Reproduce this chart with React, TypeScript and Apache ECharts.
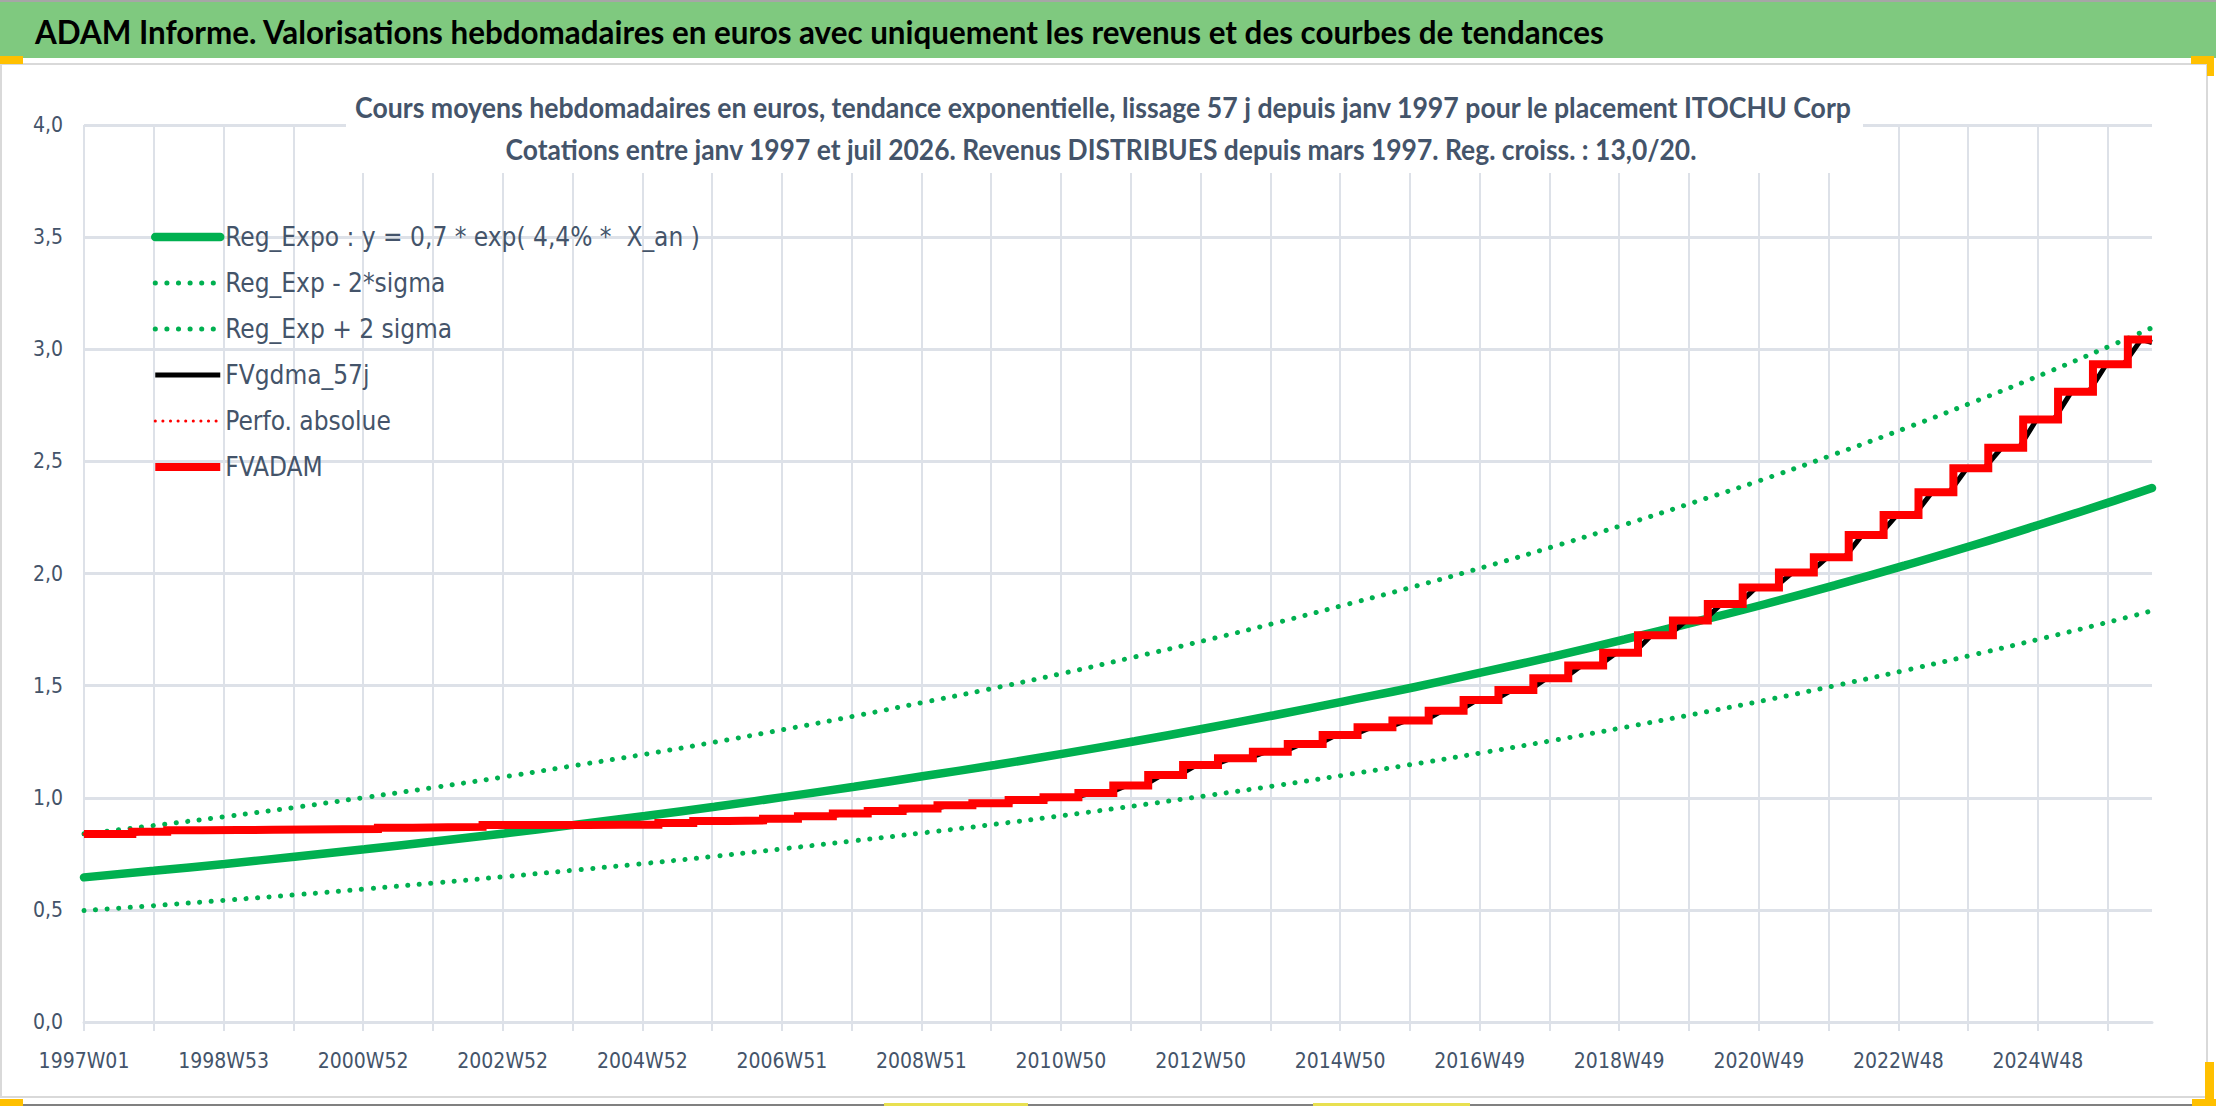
import React, { useEffect, useRef } from "react";
import * as echarts from "echarts";

// ISO weeks from 1997W01 up to 2026W29 (years with 53 weeks listed)
const LONG_YEARS = [1998, 2004, 2009, 2015, 2020];
const FIRST_YEAR = 1997;
const LAST_YEAR = 2026;
const LAST_WEEK = 29;

const weeks: string[] = [];
for (let y = FIRST_YEAR; y <= LAST_YEAR; y++) {
	const n = y === LAST_YEAR ? LAST_WEEK : LONG_YEARS.includes(y) ? 53 : 52;
	for (let w = 1; w <= n; w++) weeks.push(`${y}W${String(w).padStart(2, "0")}`);
}

// trend curves, read each January plus the last week
const TREND_WEEKS = [
	"1997W01", "1998W01", "1999W01", "2000W01", "2001W01", "2002W01", "2003W01", "2004W01",
	"2005W01", "2006W01", "2007W01", "2008W01", "2009W01", "2010W01", "2011W01", "2012W01",
	"2013W01", "2014W01", "2015W01", "2016W01", "2017W01", "2018W01", "2019W01", "2020W01",
	"2021W01", "2022W01", "2023W01", "2024W01", "2025W01", "2026W01", "2026W29",
];
const REG_EXPO = [
	0.645, 0.674, 0.705, 0.737, 0.77, 0.805, 0.841, 0.879, 0.919, 0.96, 1.004, 1.049, 1.097,
	1.146, 1.198, 1.252, 1.309, 1.368, 1.43, 1.494, 1.562, 1.632, 1.706, 1.783, 1.864, 1.948,
	2.036, 2.128, 2.225, 2.325, 2.381,
];
const REG_LOW = [
	0.497, 0.519, 0.543, 0.567, 0.593, 0.62, 0.648, 0.677, 0.707, 0.739, 0.773, 0.808, 0.844,
	0.882, 0.922, 0.964, 1.008, 1.053, 1.101, 1.151, 1.203, 1.257, 1.314, 1.373, 1.435, 1.5,
	1.568, 1.639, 1.713, 1.79, 1.834,
];
const REG_HIGH = [
	0.839, 0.876, 0.916, 0.957, 1.001, 1.046, 1.093, 1.143, 1.194, 1.248, 1.305, 1.364, 1.426,
	1.49, 1.557, 1.628, 1.701, 1.778, 1.859, 1.943, 2.03, 2.122, 2.218, 2.318, 2.423, 2.533,
	2.647, 2.767, 2.892, 3.023, 3.096,
];

// FVADAM: level after each half-yearly distribution (W11 and W37 of each year)
const FVADAM_START = 0.838;
const STEP_WEEKS = ["W11", "W37"];
const FVADAM_STEPS = [
	0.838, 0.848, // 1997
	0.855, 0.856, // 1998
	0.857, 0.858, // 1999
	0.859, 0.86, // 2000
	0.866, 0.868, // 2001
	0.87, 0.878, // 2002
	0.878, 0.879, // 2003
	0.88, 0.88, // 2004
	0.887, 0.896, // 2005
	0.899, 0.906, // 2006
	0.918, 0.93, // 2007
	0.941, 0.952, // 2008
	0.966, 0.976, // 2009
	0.99, 1.002, // 2010
	1.021, 1.055, // 2011
	1.101, 1.146, // 2012
	1.176, 1.205, // 2013
	1.24, 1.28, // 2014
	1.314, 1.344, // 2015
	1.388, 1.436, // 2016
	1.48, 1.533, // 2017
	1.59, 1.647, // 2018
	1.725, 1.79, // 2019
	1.864, 1.938, // 2020
	2.004, 2.072, // 2021
	2.172, 2.261, // 2022
	2.362, 2.469, // 2023
	2.561, 2.687, // 2024
	2.811, 2.933, // 2025
	3.044, // 2026
];
// 57-day smoothing: ramps from a few weeks before each jump to some weeks after
const GDMA_LEAD = 3;
const GDMA_LAG = 10;
const GDMA_END = 3.03;

const TITLE = "ADAM Informe. Valorisations hebdomadaires en euros avec uniquement les revenus et des courbes de tendances";
const SUB1 = "Cours moyens hebdomadaires en euros, tendance exponentielle, lissage 57 j depuis janv 1997 pour le placement ITOCHU Corp";
const SUB2 = "Cotations entre janv 1997 et juil 2026. Revenus DISTRIBUES depuis mars 1997. Reg. croiss. : 13,0/20.";

const FONT = "'DejaVu Sans Condensed', 'Liberation Sans Narrow', sans-serif";
const HEAD_FONT = "Lato, 'Open Sans', sans-serif";
const TEXT = "#44546A";
const GRID = "#DDE1E8";
const GREEN = "#00B050";
const RED = "#FF0000";

const measure = (text: string, font: string) => {
	const ctx = document.createElement("canvas").getContext("2d");
	if (!ctx) return 0;
	ctx.font = font;
	return ctx.measureText(text).width;
};

// squeeze a heading to the width it has in the picture
const fitScale = (text: string, size: number, width: number) => {
	const w = measure(text, `bold ${size}px ${HEAD_FONT}`);
	return w > 0 ? width / w : 1;
};

const App = () => {
	const chartRef = useRef<HTMLDivElement>(null);

	useEffect(() => {
		if (!chartRef.current) return;
		const chart = echarts.init(chartRef.current, null, { renderer: "svg" });

		const stepWeeks: string[] = [];
		for (let y = FIRST_YEAR; y <= LAST_YEAR; y++) {
			STEP_WEEKS.forEach((w) => stepWeeks.push(`${y}${w}`));
		}
		const jumps = stepWeeks.slice(0, FVADAM_STEPS.length);
		const lastWeek = weeks[weeks.length - 1];

		const fvadam = [[weeks[0], FVADAM_START], ...jumps.map((w, i) => [w, FVADAM_STEPS[i]])];
		fvadam.push([lastWeek, FVADAM_STEPS[FVADAM_STEPS.length - 1]]);

		const gdma: (string | number)[][] = [[weeks[0], FVADAM_START]];
		jumps.forEach((w, i) => {
			const k = weeks.indexOf(w);
			const prev = i === 0 ? FVADAM_START : FVADAM_STEPS[i - 1];
			gdma.push([weeks[Math.max(0, k - GDMA_LEAD)], prev]);
			gdma.push([weeks[Math.min(weeks.length - 1, k + GDMA_LAG)], FVADAM_STEPS[i]]);
		});
		gdma.push([lastWeek, GDMA_END]);

		const trend = (vals: number[]) => TREND_WEEKS.map((w, i) => [w, vals[i]]);

		const dotted = (color: string, width: number, gap: number) => ({
			color,
			width,
			type: [0.1, gap],
			cap: "round",
		});

		const headText = (text: string, x: number, y: number, size: number, width: number, color: string, align: string) => ({
			type: "text",
			x,
			y,
			scaleX: fitScale(text, size, width),
			style: {
				text,
				fill: color,
				fontSize: size,
				fontWeight: "bold",
				fontFamily: HEAD_FONT,
				align,
				verticalAlign: "middle",
			},
			z: 11,
		});

		const option = {
			animation: false,
			backgroundColor: "#ffffff",
			textStyle: { fontFamily: FONT },
			grid: { left: 84, right: 64, top: 125, bottom: 84 },
			legend: {
				orient: "vertical",
				left: 151,
				top: 222,
				padding: 0,
				itemWidth: 65,
				itemHeight: 14,
				itemGap: 16,
				itemStyle: { opacity: 0 },
				lineStyle: { width: "inherit" },
				textStyle: { color: TEXT, fontSize: 26, lineHeight: 30, fontFamily: FONT },
			},
			xAxis: {
				type: "category",
				data: weeks,
				boundaryGap: false,
				axisLine: { lineStyle: { color: GRID, width: 3 } },
				axisTick: { show: true, interval: 51, length: 9, lineStyle: { color: GRID, width: 2 } },
				axisLabel: { interval: 103, color: TEXT, fontSize: 21, margin: 28, fontFamily: FONT },
				splitLine: { show: true, interval: 51, lineStyle: { color: GRID, width: 2 } },
			},
			yAxis: {
				type: "value",
				min: 0,
				max: 4,
				interval: 0.5,
				axisLine: { show: false },
				axisTick: { show: false },
				axisLabel: {
					color: TEXT,
					fontSize: 21,
					margin: 21,
					fontFamily: FONT,
					formatter: (v: number) => v.toFixed(1).replace(".", ","),
				},
				splitLine: { lineStyle: { color: GRID, width: 3 } },
			},
			graphic: [
				{ type: "rect", shape: { x: 0, y: 0, width: 2216, height: 2 }, style: { fill: "#A6A6A6" }, z: 10 },
				{ type: "rect", shape: { x: 0, y: 2, width: 2216, height: 56 }, style: { fill: "#7FC97F" }, z: 10 },
				headText(TITLE, 35, 31, 33, 1570, "#000000", "left"),
				{ type: "rect", shape: { x: 1, y: 64, width: 2206, height: 1033 }, style: { fill: "none", stroke: "#D9D9D9", lineWidth: 2 }, z: 9 },
				{ type: "rect", shape: { x: 346, y: 80, width: 1517, height: 93 }, style: { fill: "#ffffff" }, z: 10 },
				headText(SUB1, 1103, 107, 28, 1499, TEXT, "center"),
				headText(SUB2, 1101, 149, 28, 1192, TEXT, "center"),
				// selection handles and window edge
				{ type: "rect", shape: { x: 0, y: 56, width: 23, height: 8 }, style: { fill: "#FFC000" }, z: 12 },
				{ type: "rect", shape: { x: 2191, y: 56, width: 22, height: 8 }, style: { fill: "#FFC000" }, z: 12 },
				{ type: "rect", shape: { x: 2207, y: 56, width: 7, height: 20 }, style: { fill: "#FFC000" }, z: 12 },
				{ type: "rect", shape: { x: 0, y: 1099, width: 23, height: 7 }, style: { fill: "#FFC000" }, z: 12 },
				{ type: "rect", shape: { x: 2205, y: 1062, width: 9, height: 44 }, style: { fill: "#FFC000" }, z: 12 },
				{ type: "rect", shape: { x: 2192, y: 1099, width: 24, height: 7 }, style: { fill: "#FFC000" }, z: 12 },
				{ type: "rect", shape: { x: 884, y: 1103, width: 144, height: 3 }, style: { fill: "#E8E050" }, z: 12 },
				{ type: "rect", shape: { x: 1313, y: 1103, width: 157, height: 3 }, style: { fill: "#E8E050" }, z: 12 },
				{ type: "rect", shape: { x: 0, y: 1104, width: 2216, height: 2 }, style: { fill: "#808080" }, z: 11 },
			],
			series: [
				{
					name: "Reg_Expo : y = 0,7 * exp( 4,4% *  X_an )",
					type: "line",
					data: trend(REG_EXPO),
					smooth: true,
					symbol: "none",
					lineStyle: { color: GREEN, width: 8.5, cap: "round" },
					itemStyle: { color: GREEN },
				},
				{
					name: "Reg_Exp - 2*sigma",
					type: "line",
					data: trend(REG_LOW),
					smooth: true,
					symbol: "none",
					lineStyle: dotted(GREEN, 5, 11.5),
					itemStyle: { color: GREEN },
				},
				{
					name: "Reg_Exp + 2 sigma",
					type: "line",
					data: trend(REG_HIGH),
					smooth: true,
					symbol: "none",
					lineStyle: dotted(GREEN, 5, 11.5),
					itemStyle: { color: GREEN },
				},
				{
					name: "FVgdma_57j",
					type: "line",
					data: gdma,
					symbol: "none",
					lineStyle: { color: "#000000", width: 5 },
					itemStyle: { color: "#000000" },
				},
				{
					name: "Perfo. absolue",
					type: "line",
					data: fvadam,
					step: "end",
					symbol: "none",
					lineStyle: dotted(RED, 3, 7.5),
					itemStyle: { color: RED },
				},
				{
					name: "FVADAM",
					type: "line",
					data: fvadam,
					step: "end",
					symbol: "none",
					lineStyle: { color: RED, width: 8, join: "miter" },
					itemStyle: { color: RED },
				},
			],
		};

		chart.setOption(option as any);
		return () => {
			chart.dispose();
		};
	}, []);

	return (
		<div
			ref={chartRef}
			style={{ position: "fixed", left: 0, top: 0, width: "2216px", height: "1106px", background: "#ffffff" }}
		/>
	);
};

export default App;
